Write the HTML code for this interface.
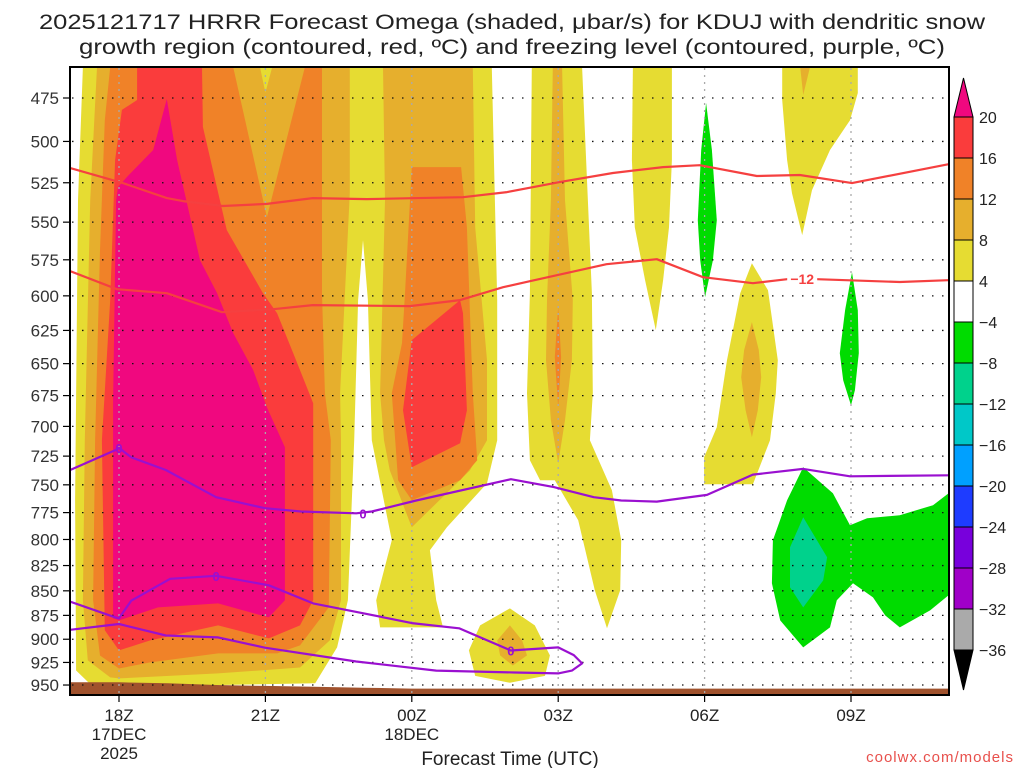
<!DOCTYPE html>
<html><head><meta charset="utf-8"><title>HRRR Omega KDUJ</title>
<style>
html,body{margin:0;padding:0;background:#fff;}
svg{display:block;font-family:"Liberation Sans",sans-serif;}
</style></head>
<body>
<svg id="chart" width="1024" height="768" viewBox="0 0 1024 768" xmlns="http://www.w3.org/2000/svg">
<defs><clipPath id="plotclip"><rect x="70" y="67" width="879" height="628"/></clipPath></defs>
<text x="512" y="29" text-anchor="middle" font-size="21" fill="#222" textLength="946" lengthAdjust="spacingAndGlyphs">2025121717 HRRR Forecast Omega (shaded, μbar/s) for KDUJ with dendritic snow</text>
<text x="512" y="54" text-anchor="middle" font-size="21" fill="#222" textLength="866" lengthAdjust="spacingAndGlyphs">growth region (contoured, red, ºC) and freezing level (contoured, purple, ºC)</text>
<g id="fills" clip-path="url(#plotclip)"></g>
<g id="grid"></g>
<g id="lines" clip-path="url(#plotclip)"></g>
<g id="axes"></g>
<g id="cbar"></g>
<text x="510" y="765" text-anchor="middle" font-size="19" fill="#222">Forecast Time (UTC)</text>
<text x="1014" y="762" text-anchor="end" font-size="15" fill="#e8504c" letter-spacing="1">coolwx.com/models</text>
</svg>
<script>
// ---- axis data ----
const pressureTicks = [475,500,525,550,575,600,625,650,675,700,725,750,775,800,825,850,875,900,925,950];
const timeTickHours = [0,3,6,9,12,15];
const timeTickLabels = [["18Z","17DEC","2025"],["21Z"],["00Z","18DEC"],["03Z"],["06Z"],["09Z"]];
const cbarLevels = [20,16,12,8,4,-4,-8,-12,-16,-20,-24,-28,-32,-36];
const cbarColors = ["#fa3c3c","#f08228","#e6af2d","#e6dc32","#ffffff","#00dc00","#00d28c","#00c8c8","#00a0ff","#1e3cff","#7800dc","#a000c8","#aaaaaa"];
const cbarTopColor = "#f0087f";
const cbarBottomColor = "#000000";
// surface pressure (ground) per hour from -1 to 17
const groundHours = [-1,0,1,2,3,4,5,6,17];
const groundPressure = [947,947,948,950,951,952,953,954,954];
// ---- omega shaded regions: [hour after 18Z, pressure hPa] ----
const yellowWest = [[-0.74,458],[7.64,458],[7.75,603],[7.75,711.6],[7.54,748.6],[6.72,788.6],[6.37,810.3],[6.5,859.6],[6.64,887.5],[5.35,887.5],[5.27,859.6],[5.59,800.8],[5.18,711.6],[5.1,603],[5.0,561.8],[4.9,603],[4.82,711.6],[4.69,859.6],[4.47,908.7],[4.02,948],[1.66,950.4],[-0.59,949],[-0.88,933.8],[-0.9,763.8],[-0.84,535.9]];
const goldWest = [[-0.45,458],[-0.59,535.9],[-0.7,711.6],[-0.74,859.6],[-0.64,922.8],[-0.18,941.5],[0,942.6],[2.03,937.1],[3.71,930.5],[4.32,901.2],[4.55,859.6],[4.55,711.6],[4.53,673.1],[4.73,531.5],[4.73,458]];
const yellowNotch = [[2.89,458],[3.14,458],[3.0,472]];
const goldMid = [[5.41,458],[7.25,458],[7.3,553.3],[7.54,647.3],[7.54,711.6],[7.19,737.3],[6.0,788.6],[5.55,737.3],[5.43,711.6],[5.35,673.1],[5.45,535.9]];
const orangeWest = [[-0.18,458],[2.34,458],[3.03,546.8],[3.81,458],[4.16,458],[4.16,598.1],[4.22,673.1],[4.34,711.6],[4.3,866.8],[3.71,906.6],[3.24,915.2],[2.03,915.2],[0.64,925],[0,931.6],[-0.39,917.4],[-0.53,859.6],[-0.49,711.6],[-0.39,568.5],[-0.29,487.6]];
const orangeMid = [[6.0,515.4],[7.01,515.4],[7.13,553.3],[7.25,673.1],[7.34,728.5],[6.99,746],[6.0,763.8],[5.72,746],[5.59,673.1],[5.8,634.4],[5.86,598.1]];
const redWest = [[0.37,458],[1.7,458],[1.72,491.5],[2.21,555.2],[2.95,598.1],[3.24,612.4],[3.57,642],[3.98,681.1],[3.98,859.6],[3.71,885.4],[3.07,899.1],[2.03,885.4],[0.64,901.2],[0,911.9],[-0.29,890.6],[-0.35,711.6],[-0.18,603],[-0.08,511.1],[0.06,481.7],[0.37,476.1]];
const magentaWest = [[0.98,475.6],[1.19,511.1],[1.66,575.3],[2.01,598.1],[2.34,627],[2.75,655],[3.03,684.3],[3.4,717.5],[3.4,859.6],[3.07,877.1],[2.03,862.7],[0.8,866.8],[0,880.2],[-0.12,878.1],[-0.12,678.7],[-0.06,535.9],[-0.02,527.7],[0.16,521.5],[0.7,505.1]];
const redMid = [[6.99,603],[7.05,612.4],[7.13,686.7],[6.99,714.1],[6.0,734.6],[5.82,686.7],[6.0,632.2]];
const yellow03 = [[8.46,458],[9.49,458],[9.69,598.1],[9.71,673.1],[9.65,711.6],[10.1,754.8],[10.29,800.8],[10.27,849.5],[10.0,888.5],[9.75,849.5],[9.41,782.1],[8.93,746],[8.63,746],[8.42,728.5],[8.36,673.1],[8.42,598.1]];
const gold03 = [[8.89,458],[9.08,458],[9.14,535.9],[9.3,603],[9.28,647.3],[9.14,695],[9.0,731.1],[8.85,695],[8.75,647.3],[8.77,603],[8.85,535.9]];
const orange03 = [[9.0,608.1],[9.06,645],[9.0,684.3],[8.93,645]];
const yellowLow = [[8.01,867.8],[8.52,885.4],[8.83,917.3],[8.73,939.8],[8.01,947.5],[7.3,939.8],[7.17,911.9],[7.4,885.4]];
const goldLow = [[8.01,885.4],[8.26,901.2],[8.36,917.3],[8.07,928.3],[7.81,917.3],[7.75,901.2]];
const yellow05 = [[10.53,458],[11.33,458],[11.33,511.1],[11.27,553.3],[11.15,589],[11.0,624.8],[10.78,589],[10.57,553.3],[10.51,511.1]];
const green06 = [[12.03,477.8],[12.15,505.1],[12.25,548.7],[12.17,575.3],[12.01,600.9],[11.91,575.3],[11.86,548.7],[11.93,505.1]];
const yellow08top = [[13.59,458],[15.14,458],[15.14,472.2],[14.98,487.6],[14.57,505.1],[14.2,529.6],[14.0,558.5],[13.79,531.5],[13.69,511.1],[13.59,476.1]];
const gold08top = [[13.96,458],[14.16,458],[14.02,473.3]];
const yellow07 = [[12.97,577.3],[13.3,596],[13.5,647.3],[13.46,673.1],[13.34,711.6],[13.1,737.3],[12.99,749.5],[11.99,749.5],[11.99,725.9],[12.25,700.7],[12.46,647.3],[12.73,598.1]];
const gold07 = [[12.97,618.9],[13.11,639.7],[13.16,660.5],[13.09,686.7],[12.97,709],[12.84,686.7],[12.75,660.5],[12.81,639.7]];
const green09 = [[15.02,583.5],[15.14,610.2],[15.16,642],[15.08,670.7],[15.0,682.7],[14.84,662.9],[14.77,642],[14.88,610.2]];
const greenLow = [[14.02,734.6],[14.63,757.5],[14.98,786.7],[15.33,780.2],[16.0,777.4],[16.68,768.3],[17.0,757.5],[17.0,854.5],[16.62,869.9],[16.0,887.5],[15.7,875],[15.45,856.6],[15.04,842.5],[14.71,859.6],[14.57,887.5],[14.02,908.7],[13.55,880.2],[13.38,842.5],[13.4,800.8],[13.69,763.8]];
const tealLow = [[14.02,779.3],[14.51,817],[14.43,839.6],[14.02,866.8],[13.75,846.5],[13.75,807.5]];
// ---- contour lines ----
const dgzTopHours = [-1,0.08,0.98,1.31,2.13,3.03,3.97,5.08,7.05,7.95,9.03,10.12,11.15,11.9,13.07,13.95,15.02,17];
const dgzTopP = [516,525.2,534.6,536.5,539.6,538.3,534.6,535.2,534,530.8,524.6,519,515.4,514.2,520.8,520.2,525.2,513.6];
const dgzBotHours = [-1,-0.04,0.98,2.11,3.16,3.97,5.96,6.99,7.87,8.42,9.99,11.02,11.97,12.99,13.69,14.3,16,17];
const dgzBotP = [582.8,595.3,598.1,611.7,609.5,606.6,607.3,603,593.9,589.7,578,574.6,586.9,591.1,588.3,588.3,590.3,589];
const frzUpperHours = [-1,-0.08,0,0.25,0.96,1.99,2.99,3.73,4.86,5.18,6.09,8.03,8.91,9.73,10.29,11.02,12.05,12.99,14.02,14.98,17];
const frzUpperP = [737,720,718,726,737,761,771,774,775.6,774,764,745,752,761,764,765,759,741,736,742.5,741.6];
const frzLowerHours = [-1,-0.08,0,0.25,1.05,1.99,3.07,3.98,5.02,6.0,6.97,8.03,9.0,9.32,9.49,9.28,9.0,8.11,6.5,4.86,2.99,2.03,0.96,0,-1];
const frzLowerP = [861,877,878,860,838,835,844.5,862.7,873,883,888.5,912,908.7,917,926,934,937,936,934,924,909,898,896,884,890];
const contourLabelHours = [0,5.0,1.99,8.03];
const contourLabelP = [718,775.6,835,912];
const dgzLabelHour = 14.0, dgzLabelP = 588.3;

// ---- axis functions ----
const X0 = 119, PXH = 48.8, Y0 = 98, KP = 846.9;
function xs(h){ return X0 + h*PXH; }
function ys(p){ return Y0 + KP*Math.log(p/475); }
const NS = "http://www.w3.org/2000/svg";
function mk(tag, attrs, parent){ const e=document.createElementNS(NS,tag); for(const k in attrs) e.setAttribute(k,attrs[k]); parent.appendChild(e); return e; }
function pts(arr){ return arr.map(d=>xs(d[0]).toFixed(1)+","+ys(d[1]).toFixed(1)).join(" "); }

const fills = document.getElementById("fills");
const C = {y:"#e6dc32", g:"#e6af2d", o:"#f08228", r:"#fa3c3c", m:"#f0087f", gr:"#00dc00", t:"#00d28c"};
const regions = [
 ["yellow-west", yellowWest, C.y],["gold-west", goldWest, C.g],["yellow-notch", yellowNotch, C.y],
 ["gold-mid", goldMid, C.g],["orange-west", orangeWest, C.o],["orange-mid", orangeMid, C.o],
 ["red-west", redWest, C.r],["magenta-west", magentaWest, C.m],["red-mid", redMid, C.r],
 ["yellow-03z", yellow03, C.y],["gold-03z", gold03, C.g],["orange-03z", orange03, C.o],
 ["yellow-low", yellowLow, C.y],["gold-low", goldLow, C.g],["yellow-05z", yellow05, C.y],
 ["green-06z", green06, C.gr],["yellow-08z-top", yellow08top, C.y],["gold-08z-top", gold08top, C.g],
 ["yellow-07z", yellow07, C.y],["gold-07z", gold07, C.g],["green-09z", green09, C.gr],
 ["green-low", greenLow, C.gr],["teal-low", tealLow, C.t]
];
regions.forEach(r=>{
  const el = mk("polygon",{points:pts(r[1]), fill:r[2]}, fills);
  
  
});
// ground
const gpts = groundHours.map((h,i)=>[h,groundPressure[i]]);
const gp = pts(gpts) + " " + xs(17).toFixed(1)+","+ys(970).toFixed(1)+" "+xs(-1).toFixed(1)+","+ys(970).toFixed(1);
const ground = mk("polygon",{points:gp, fill:"#a0522d"}, fills);



// grid
const grid = document.getElementById("grid");
pressureTicks.forEach(p=>{
  const l = mk("line",{x1:72,x2:949,y1:ys(p),y2:ys(p),stroke:"#111","stroke-width":1.3,"stroke-dasharray":"1.5 8.5"}, grid);
  
  
});
timeTickHours.forEach(h=>{
  const l = mk("line",{x1:xs(h),x2:xs(h),y1:68,y2:694,stroke:"#aaa","stroke-width":1.3,"stroke-dasharray":"2 5"}, grid);
  
  
});

// contour lines
const lines = document.getElementById("lines");
function line(hs, ps, color, name){
  const d = hs.map((h,i)=>(i?"L":"M")+xs(h).toFixed(1)+" "+ys(ps[i]).toFixed(1)).join(" ");
  const el = mk("path",{d:d, fill:"none", stroke:color, "stroke-width":2.2, "stroke-linejoin":"round"}, lines);
  
  
}
line(dgzTopHours, dgzTopP, "#f54040", "dgz-contour-upper");
line(dgzBotHours, dgzBotP, "#f54040", "dgz-contour-minus-12");
line(frzUpperHours, frzUpperP, "#9a10d0", "freezing-level-upper");
line(frzLowerHours, frzLowerP, "#9a10d0", "freezing-level-lower");
contourLabelHours.forEach((h,i)=>{
  const r = mk("rect",{x:xs(h)-5,y:ys(contourLabelP[i])-8,width:10,height:15,fill:"#fff","fill-opacity":0}, lines);
  
  
  const t = mk("text",{x:xs(h),y:ys(contourLabelP[i])+5,"text-anchor":"middle","font-size":13,"font-weight":"bold",fill:"#9a10d0"}, lines);
  t.textContent = "0";
  
  
});
const lb = mk("rect",{x:xs(dgzLabelHour)-15,y:ys(dgzLabelP)-8,width:30,height:15,fill:"#fff"}, lines);


const lt = mk("text",{x:xs(dgzLabelHour),y:ys(dgzLabelP)+5,"text-anchor":"middle","font-size":14,"font-weight":"bold",fill:"#f54040"}, lines);
lt.textContent = "−12";



// axes
const axes = document.getElementById("axes");
const frame = mk("rect",{x:70,y:67,width:879,height:628,fill:"none",stroke:"#000","stroke-width":2}, axes);


pressureTicks.forEach(p=>{
  const tk = mk("line",{x1:63,x2:70,y1:ys(p),y2:ys(p),stroke:"#000","stroke-width":1.2}, axes);
  
  
  const t = mk("text",{x:59,y:ys(p)+6,"text-anchor":"end","font-size":17,fill:"#333"}, axes);
  t.textContent = p;
  
  
});
timeTickHours.forEach((h,i)=>{
  const tk = mk("line",{x1:xs(h),x2:xs(h),y1:695,y2:702,stroke:"#000","stroke-width":1.2}, axes);
  
  
  timeTickLabels[i].forEach((s,j)=>{
    const t = mk("text",{x:xs(h),y:721+j*19,"text-anchor":"middle","font-size":17,fill:"#222"}, axes);
    t.textContent = s;
    
    
  });
});

// colorbar
const cb = document.getElementById("cbar");
const CBX = 954, CBW = 19, CBTOP = 117, CBSTEP = 41;
function cbY(i){ return CBTOP + i*CBSTEP; }
const tri1 = mk("polygon",{points:`${CBX},${CBTOP} ${CBX+CBW},${CBTOP} ${CBX+CBW/2},78`, fill:cbarTopColor, stroke:"#000","stroke-width":1}, cb);


cbarColors.forEach((c,i)=>{
  const r = mk("rect",{x:CBX,y:cbY(i),width:CBW,height:CBSTEP,fill:c,stroke:"#000","stroke-width":1}, cb);
  
  
});
const nB = cbarColors.length;
const tri2 = mk("polygon",{points:`${CBX},${cbY(nB)} ${CBX+CBW},${cbY(nB)} ${CBX+CBW/2},690`, fill:cbarBottomColor, stroke:"#000","stroke-width":1}, cb);


cbarLevels.forEach((v,i)=>{
  const t = mk("text",{x:979,y:cbY(i)+6,"font-size":16,fill:"#222"}, cb);
  t.textContent = v<0 ? "−"+Math.abs(v) : String(v);
  
  
});
</script>
</body></html>
